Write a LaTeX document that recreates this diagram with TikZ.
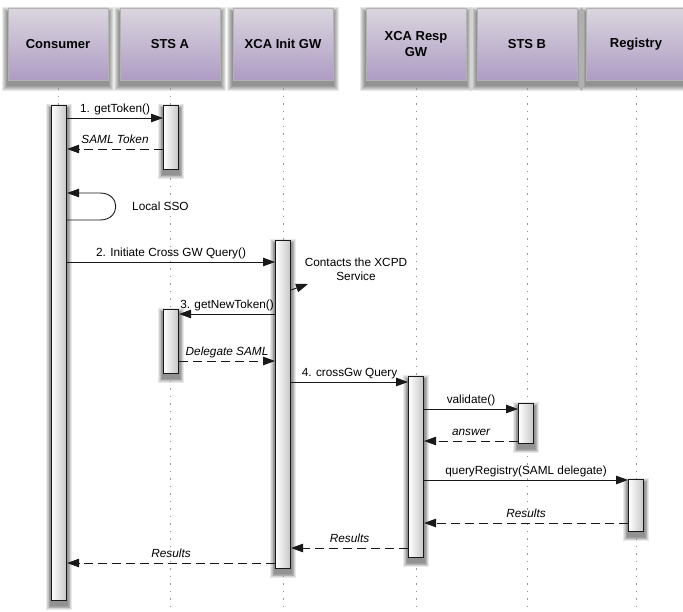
\documentclass[tikz,border=0pt]{standalone}
\usepackage{fontspec}
\setmainfont{Liberation Sans}
\usetikzlibrary{arrows.meta,calc}
\definecolor{hdtop}{RGB}{218,214,222}
\definecolor{hdbot}{RGB}{174,156,196}
\definecolor{lifegray}{RGB}{150,150,150}
\pgfdeclarelayer{bg}
\pgfsetlayers{bg,main}
\newcommand{\softshadow}[3]{% node, y offset, spread step
  \foreach \k in {1,...,6}{
    \fill[black, fill opacity=0.085]
      ($(#1.north west)+(-\k*#3, #2-\k*#3)$) rectangle ($(#1.south east)+(\k*#3, #2+\k*#3)$);
  }}
\begin{document}
\begin{tikzpicture}[x=1pt,y=-1pt,
  header/.style={rectangle, minimum width=100pt, minimum height=72pt, inner sep=2pt,
    top color=hdtop, bottom color=hdbot, draw=gray!60, line width=0.4pt,
    font=\fontsize{13}{16}\selectfont\bfseries, align=center},
  lifeline/.style={draw=lifegray, line width=0.8pt, dash pattern=on 1.5pt off 6pt},
  bar/.style={rectangle, draw=black!90, line width=1.1pt, minimum width=15pt, inner sep=0pt,
    left color=white, right color=gray!45, anchor=north west},
  call/.style={draw=black!90, line width=0.9pt, -{Triangle[length=12pt,width=8.5pt]}},
  ret/.style={call, dash pattern=on 9pt off 5pt},
  lbl/.style={anchor=base, yshift=5.5pt, inner sep=0pt, font=\fontsize{11.8}{14}\selectfont},
  rlbl/.style={lbl, font=\fontsize{11.8}{14}\selectfont\itshape},
  note/.style={inner sep=0pt, font=\fontsize{11.8}{14}\selectfont, align=center}
]
\begin{pgfonlayer}{bg}
\fill[white] (0,0) rectangle (683,612);
\end{pgfonlayer}
\useasboundingbox (0,0) rectangle (683,612);

% headers
\node[header] (hC) at (58,44) {Consumer};
\node[header] (hSA) at (170,44) {STS A};
\node[header] (hXI) at (283,44) {XCA Init GW};
\node[header] (hXR) at (416,44) {XCA Resp\\GW};
\node[header] (hSB) at (527,44) {STS B};
\node[header] (hR) at (636,44) {Registry};

% lifelines
\foreach \h in {hC,hSA,hXI,hXR,hSB,hR}
  \draw[lifeline] (\h.south) ++(0,8) -- (\h.south |- 0,612);

% activation bars
\node[bar, minimum height=495pt] (bC) at (51,105) {};
\node[bar, minimum height=64pt] (bSA1) at (163,105) {};
\node[bar, minimum height=328pt] (bXI) at (275,240) {};
\node[bar, minimum height=64pt] (bSA2) at (163,309) {};
\node[bar, minimum height=181pt] (bXR) at (408,376) {};
\node[bar, minimum height=40pt] (bSB) at (518,403) {};
\node[bar, minimum height=52pt] (bR) at (628,479) {};

% shadows
\begin{pgfonlayer}{bg}
\foreach \h in {hC,hSA,hXI,hXR,hSB,hR} {\softshadow{\h}{5}{0.9}}
\foreach \b in {bC,bSA1,bXI,bSA2,bXR,bSB,bR} {\softshadow{\b}{4}{0.8}}
\end{pgfonlayer}

% messages
\draw[call] (bC.east |- 0,118) -- node[lbl]{1. getToken()} (bSA1.west |- 0,118);
\draw[ret] (bSA1.west |- 0,149) -- node[rlbl]{SAML Token} (bC.east |- 0,149);

\draw[call] (bC.east |- 0,220) -- (100,220) .. controls (121,220) and (121,193) .. (100,193) -- (bC.east |- 0,193);
\node[note, anchor=west] (sso) at (132,206) {Local SSO};

\draw[call] (bC.east |- 0,262) -- node[lbl]{2. Initiate Cross GW Query()} (bXI.west |- 0,262);

\node[note] (xcpd) at (356,269) {Contacts the XCPD\\Service};
\coordinate (xcpdtip) at (308,284);
\draw[call] (bXI.east |- 0,290) -- (xcpdtip);

\draw[call] (bXI.west |- 0,314) -- node[lbl]{3. getNewToken()} (bSA2.east |- 0,314);
\draw[ret] (bSA2.east |- 0,361) -- node[rlbl]{Delegate SAML} (bXI.west |- 0,361);

\draw[call] (bXI.east |- 0,382) -- node[lbl]{4. crossGw Query} (bXR.west |- 0,382);

\draw[call] (bXR.east |- 0,409) -- node[lbl]{validate()} (bSB.west |- 0,409);
\draw[ret] (bSB.west |- 0,441) -- node[rlbl]{answer} (bXR.east |- 0,441);

\draw[call] (bXR.east |- 0,480) -- node[lbl]{queryRegistry(SAML delegate)} (bR.west |- 0,480);
\draw[ret] (bR.west |- 0,523) -- node[rlbl]{Results} (bXR.east |- 0,523);

\draw[ret] (bXR.west |- 0,548) -- node[rlbl]{Results} (bXI.east |- 0,548);
\draw[ret] (bXI.west |- 0,563) -- node[rlbl]{Results} (bC.east |- 0,563);
\end{tikzpicture}
\end{document}
